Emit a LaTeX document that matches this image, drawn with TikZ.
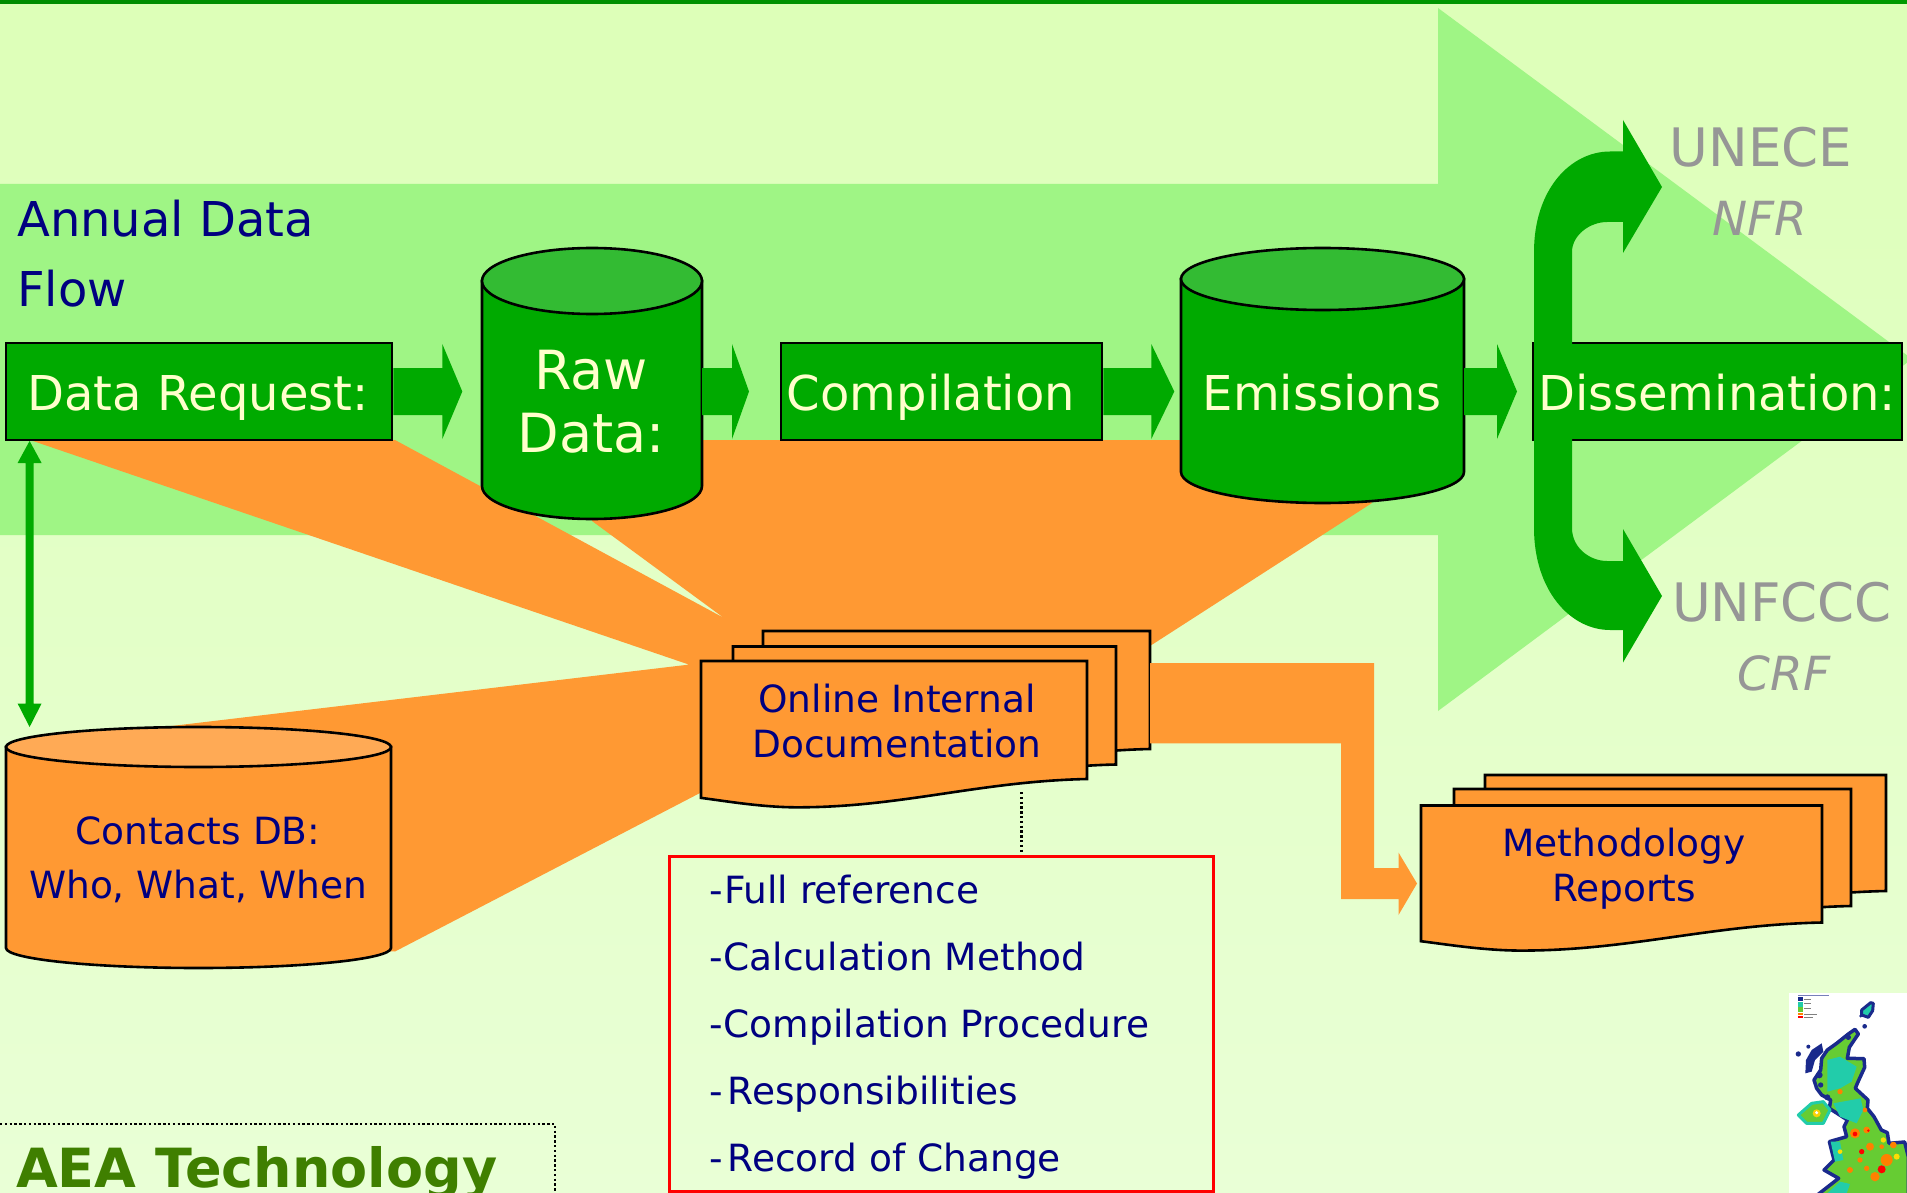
\documentclass[tikz,border=0pt]{standalone}
\usepackage{fontspec}
\setmainfont{DejaVu Sans}
\definecolor{bgtop}{HTML}{DDFFB8}
\definecolor{bgbot}{HTML}{E9FFD6}
\definecolor{bigarrow}{HTML}{9FF585}
\definecolor{flowgreen}{HTML}{00AA00}
\definecolor{lidgreen}{HTML}{33BB33}
\definecolor{orangefill}{HTML}{FF9933}
\definecolor{lidorange}{HTML}{FFAA55}
\definecolor{navytext}{HTML}{000080}
\definecolor{cream}{HTML}{FFFFCC}
\definecolor{greytext}{HTML}{969696}
\definecolor{aeagreen}{HTML}{3F7F00}
\definecolor{mapblue}{HTML}{1A2A8C}
\definecolor{mapgreen}{HTML}{66CC33}
\definecolor{mapteal}{HTML}{22CCAA}
\tikzset{
  outline/.style={draw=black,line width=2.6pt,line join=miter},
  greenbox/.style={outline,fill=flowgreen,inner sep=0pt},
  lighttext/.style={text=cream,font=\fontsize{48}{48}\selectfont,inner sep=0pt},
  navylabel/.style={text=navytext,inner sep=0pt},
  greylabel/.style={text=greytext,inner sep=0pt},
  listline/.style={navylabel,anchor=base west,font=\fontsize{37.5}{37.5}\selectfont},
  docpage/.style={outline,fill=orangefill},
}
\newcommand{\cylshape}[7]{%
  \draw[outline,fill=#6] (#1,#3) -- (#1,#4) arc[start angle=180,end angle=0,x radius={(#2-#1)/2},y radius=#5] -- (#2,#3) -- cycle;
  \draw[outline,fill=#7] ({(#1+#2)/2},#3) ellipse[x radius={(#2-#1)/2},y radius=#5];
}
\newcommand{\blockarrow}[6]{%
  \fill[#6] (#1) ++(0,{-#4}) -- ++(#2,0) -- ++(0,{-(#5-#4)}) -- ++(#3,#5) -- ++({-#3},#5) -- ++(0,{-(#5-#4)}) -- ++({-#2},0) -- cycle;
}
\newcommand{\wavepage}[4]{%
  \draw[docpage] (#1,#2) -- ({#1+#3},#2) -- ({#1+#3},{#2+#4})
   .. controls ({#1+.72*#3},{#2+1.02*#4}) and ({#1+.52*#3},{#2+1.24*#4}) .. ({#1+.25*#3},{#2+1.24*#4})
   .. controls ({#1+.16*#3},{#2+1.24*#4}) and ({#1+.07*#3},{#2+1.19*#4}) .. (#1,{#2+1.16*#4}) -- cycle;
}
\begin{document}
\begin{tikzpicture}[x=1pt,y=-1pt]
\useasboundingbox (0,0) rectangle (1907,1193);
% background
\shade[top color=bgtop,bottom color=bgbot] (0,0) rectangle (1907,1193);
\shade[left color=green!55!black,right color=green!60!black] (0,0) rectangle (1907,4);
% big flow arrow
\fill[bigarrow] (0,184) -- (1438,184) -- (1438,8) -- (1912,359) -- (1438,711) -- (1438,535) -- (0,535) -- cycle;
% orange fans
\fill[orangefill] (30,440) -- (395,440) -- (724,618) -- (592,521) -- (600,440) -- (1330,440) -- (1372,503) -- (1150,646) -- (1150,720) -- (800,800) -- (700,793) -- (395,951.5) -- (385,951) -- (385,760) -- (163,727) -- (689,664.6) -- cycle;
% orange route to reports
\coordinate (routeA) at (1150,663);
\coordinate (routeB) at (1150,743.4);
\coordinate (reportsIn) at (1417,883.5);
% double-headed contact arrow
\coordinate (reqFoot) at (29.6,441);
\coordinate (dbHead) at (29.6,727);
\fill[flowgreen] (reqFoot) -- ++(12,22) -- ++(-8,0) -- ++(0,240.5) -- ++(8,0) -- (dbHead) -- ++(-12,-23.5) -- ++(8,0) -- ++(0,-240.5) -- ++(-8,0) -- cycle;
% documents
\wavepage{763}{631}{387}{118}
\wavepage{733}{646.5}{383}{118}
\wavepage{701}{661}{386}{118}
\fill[orangefill] (routeA) -- (1374,663) -- (1374,868) -- (1398.5,868) -- (1398.5,852.5) -- (reportsIn) -- (1398.5,915) -- (1398.5,899) -- (1341,899) -- (1341,743.4) -- (routeB) -- cycle;
\wavepage{1485}{775}{401}{116}
\wavepage{1454}{789}{397}{117}
\wavepage{1421}{805.5}{401}{117}
% list box and dotted link
\node[draw=red,line width=3pt,minimum width=544pt,minimum height=335pt,inner sep=0pt] (listbox) at (941,1023.5) {};
\coordinate (dotA) at (1021.5,792);
\coordinate (dotB) at (1021.5,853);
\draw[line width=2.2pt,dash pattern=on 2.4pt off 2.4pt] (dotA) -- (dotB);
% contact DB
\cylshape{6}{391}{747}{948}{20}{orangefill}{lidorange}
% flow boxes
\node[greenbox,minimum width=386pt,minimum height=97pt] (req) at (199,391.5) {};
\node[greenbox,minimum width=321pt,minimum height=97pt] (comp) at (941.5,391.5) {};
\node[greenbox,minimum width=369pt,minimum height=97pt] (diss) at (1717.5,391.5) {};
\cylshape{482}{702}{281}{486}{33}{flowgreen}{lidgreen}
\cylshape{1181}{1464}{279}{472}{31}{flowgreen}{lidgreen}
% block arrows
\coordinate (rawOut) at (702,391.5);
\coordinate (emOut) at (1464,391.5);
\blockarrow{req.east}{49}{20}{23.5}{47.5}{flowgreen}
\blockarrow{rawOut}{30}{17}{23.5}{47.5}{flowgreen}
\blockarrow{comp.east}{48}{23}{23.5}{47.5}{flowgreen}
\blockarrow{emOut}{33}{20}{23.5}{47.5}{flowgreen}
% split arrow
\fill[flowgreen] (1534,528) -- (1534,252) .. controls (1534,190) and (1570,151.5) .. (1610,151.5) -- (1623,151.5) -- (1623,120) -- (1662,187) -- (1623,253) -- (1623,222) -- (1607,222) .. controls (1590,222) and (1572,235) .. (1572,252) -- (1572,528) .. controls (1572,548) and (1590,561) .. (1607,561) -- (1623,561) -- (1623,529) -- (1662,596) -- (1623,662.5) -- (1623,630) -- (1610,630) .. controls (1570,630) and (1534,590) .. (1534,528) -- cycle;
% flow labels
\node[lighttext,anchor=base] (reqT) at (198,410) {Data Request:};
\node[lighttext,anchor=base] (compT) at (931,410) {Compilation};
\node[lighttext,anchor=base] (emT) at (1322,410) {Emissions};
\node[lighttext,anchor=base] (dissT) at (1717,410) {Dissemination:};
\node[lighttext,anchor=base,font=\fontsize{54}{54}\selectfont] (rawT) at (591,389) {Raw};
\node[lighttext,anchor=base,font=\fontsize{54}{54}\selectfont] (dataT) at (591,452) {Data:};
\node[navylabel,anchor=base west,font=\fontsize{48}{48}\selectfont] (annualT) at (17,237) {Annual Data};
\node[navylabel,anchor=base west,font=\fontsize{48}{48}\selectfont] (flowT) at (17,306) {Flow};
% destinations
\node[greylabel,anchor=base,font=\fontsize{53}{53}\selectfont] (unece) at (1761,167) {UNECE};
\node[greylabel,anchor=base,font=\fontsize{47}{47}\selectfont\itshape] (nfr) at (1760,236) {NFR};
\node[greylabel,anchor=base,font=\fontsize{53}{53}\selectfont] (unfccc) at (1782,621) {UNFCCC};
\node[greylabel,anchor=base,font=\fontsize{47}{47}\selectfont\itshape] (crf) at (1784,690) {CRF};
% document labels
\node[navylabel,anchor=base,font=\fontsize{37.5}{37.5}\selectfont] (doc1) at (897,712) {Online Internal};
\node[navylabel,anchor=base,font=\fontsize{37.5}{37.5}\selectfont] (doc2) at (897,757) {Documentation};
\node[navylabel,anchor=base,font=\fontsize{37.5}{37.5}\selectfont] (rep1) at (1624,856) {Methodology};
\node[navylabel,anchor=base,font=\fontsize{37.5}{37.5}\selectfont] (rep2) at (1624,901) {Reports};
\node[navylabel,anchor=base,font=\fontsize{37.5}{37.5}\selectfont] (db1) at (198,844) {Contacts DB:};
\node[navylabel,anchor=base,font=\fontsize{37.5}{37.5}\selectfont] (db2) at (198,898) {Who, What, When};
% list
\node[listline] (l1) at (709,903) {-\kern1.5pt Full reference};
\node[listline] (l2) at (709,970) {-\kern1pt Calculation Method};
\node[listline] (l3) at (709,1037) {-\kern1pt Compilation Procedure};
\node[listline] (l4) at (709,1104) {-\kern5pt Responsibilities};
\node[listline] (l5) at (709,1171) {-\kern5pt Record of Change};
% AEA box
\coordinate (aeaA) at (0,1124);
\coordinate (aeaB) at (555,1124);
\coordinate (aeaC) at (555,1193);
\draw[line width=2.2pt,dash pattern=on 2.4pt off 2.4pt] (aeaA) -- (aeaB) -- (aeaC);
\node[anchor=base west,inner sep=0pt,text=aeagreen,font=\fontsize{54}{54}\selectfont\bfseries] (aea) at (16,1187) {AEA Technology};
% UK map thumbnail
\fill[white] (1789,993) rectangle (1907,1193);
\begin{scope}[shift={(1740,960)},x=0.3333pt,y=-0.3333pt]
  \clip (147,100) rectangle (501,699);
  \fill[mapblue] (174,112) rectangle (188,124);
  \fill[mapteal] (174,126) rectangle (188,140);
  \fill[mapgreen] (174,142) rectangle (188,156);
  \fill[orange] (174,158) rectangle (188,166);
  \fill[red] (174,167) rectangle (188,175);
  \draw[mapblue!60,line width=1pt] (174,107) -- (268,107);
  \draw[gray,line width=1pt] (192,118) -- (212,118) (192,130) -- (212,130) (192,146) -- (212,146) (192,162) -- (230,162) (192,172) -- (220,172);
  % Shetland, Orkney, isles
  \fill[mapteal,draw=mapblue,line width=3pt,line join=round] (365,150) -- (392,128) -- (400,130) -- (398,152) -- (385,172) -- (365,165) -- cycle;
  \fill[mapblue] (374,199) circle[radius=7] (362,168) circle[radius=5] (175,282) circle[radius=8] (205,260) circle[radius=6];
  % Outer Hebrides
  \fill[mapblue] (245,250) -- (250,275) -- (225,300) -- (215,335) -- (196,340) -- (198,300) -- (215,270) -- cycle;
  % Scotland and England
  \fill[mapgreen,draw=mapblue,line width=3.5pt,line join=round] (345,208) -- (355,222) -- (328,262) -- (322,295) -- (372,296) -- (374,322) -- (352,370) -- (346,385) -- (384,420) -- (382,445) -- (402,470) -- (424,510) -- (442,518) -- (447,550) -- (494,546) -- (505,590) -- (505,705) -- (232,705) -- (296,655) -- (252,630) -- (282,600) -- (268,545) -- (320,530) -- (312,500) -- (322,480) -- (268,445) -- (272,420) -- (245,405) -- (230,385) -- (222,360) -- (242,330) -- (245,295) -- (262,270) -- (290,250) -- (325,222) -- cycle;
  \fill[mapblue] (238,345) circle[radius=10] (242,375) circle[radius=8] (262,412) circle[radius=9] (325,232) circle[radius=8];
  % Highlands and Borders
  \fill[mapteal] (262,300) -- (300,290) -- (350,320) -- (335,365) -- (300,385) -- (262,395) -- cycle;
  \fill[mapteal] (280,430) -- (362,415) -- (370,450) -- (350,490) -- (300,470) -- cycle;
  \fill[mapteal] (272,545) -- (300,545) -- (310,600) -- (285,605) -- cycle;
  \fill[mapteal] (262,700) -- (300,665) -- (330,672) -- (320,700) -- cycle;
  % urban hot spots
  \fill[orange] (345,520) circle[radius=15] (380,510) circle[radius=10] (375,450) circle[radius=7] (300,395) circle[radius=8] (390,560) circle[radius=12] (440,600) circle[radius=18] (330,630) circle[radius=9] (460,555) circle[radius=10] (405,650) circle[radius=14] (360,600) circle[radius=8] (425,560) circle[radius=7] (380,625) circle[radius=8];
  \fill[red] (365,575) circle[radius=8] (425,628) circle[radius=12] (345,522) circle[radius=7] (385,512) circle[radius=4];
  \fill[yellow!80!orange] (300,575) circle[radius=7] (430,540) circle[radius=8] (470,590) circle[radius=9];
  % Northern Ireland
  \fill[mapgreen,draw=mapteal,line width=3pt,line join=round] (175,465) -- (215,430) -- (250,425) -- (270,450) -- (250,490) -- (200,490) -- cycle;
  \fill[yellow!70!orange] (230,460) circle[radius=12];
  \fill[white] (230,458) circle[radius=5];
\end{scope}
\end{tikzpicture}
\end{document}
